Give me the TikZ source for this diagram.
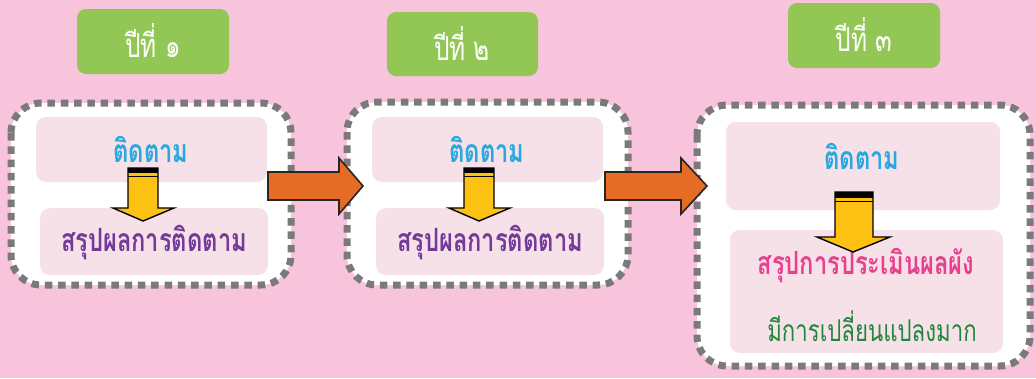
\documentclass[tikz,border=0pt]{standalone}
\usepackage{fontspec}
\newfontfamily\thai[Script=Thai, FakeStretch=0.74]{Loma}
\definecolor{bgpink}{HTML}{F7C4DC}
\definecolor{hdrgreen}{HTML}{92C756}
\definecolor{dashgray}{HTML}{7A7A7A}
\definecolor{innerpink}{HTML}{F5E1E7}
\definecolor{arrorange}{HTML}{E46C24}
\definecolor{arryellow}{HTML}{FDC114}
\definecolor{txtblue}{HTML}{29A8E0}
\definecolor{txtpurple}{HTML}{74399A}
\definecolor{txtpink}{HTML}{E8408E}
\definecolor{txtgreen}{HTML}{22873D}
\tikzset{
  hdr/.style={fill=hdrgreen, rounded corners=9pt},
  hdrtext/.style={text=white, font=\thai\fontsize{33}{36}\selectfont},
  dashbox/.style={draw=dashgray, fill=white, line width=7pt, dash pattern=on 7.5pt off 5.8pt, rounded corners=30pt},
  inner/.style={fill=innerpink, rounded corners=10pt},
  lbl/.style={font=\thai\bfseries\fontsize{32}{36}\selectfont},
  blockarrow/.style={draw=black!85, fill=arrorange, line width=1.6pt, line join=miter},
  downarrow/.style={draw=black, fill=arryellow, line width=1.4pt, line join=miter},
}
\begin{document}
\begin{tikzpicture}[x=1pt,y=-1pt]
\fill[bgpink] (0,0) rectangle (1036,378);
\useasboundingbox (0,0) rectangle (1036,378);

% header boxes
\fill[hdr] (77,9) rectangle (229,74);
\node[hdrtext] (h1) at (153,41) {ปีที่ ๑};
\fill[hdr] (387,12) rectangle (538,76);
\node[hdrtext] (h2) at (462,44) {ปีที่ ๒};
\fill[hdr] (788,3) rectangle (940,68);
\node[hdrtext] (h3) at (864,35) {ปีที่ ๓};

% dashed boxes
\draw[dashbox] (11,103) rectangle (291,285);
\draw[dashbox] (347,102) rectangle (628,285);
\draw[dashbox] (697,105) rectangle (1030,366);

% inner boxes box 1
\fill[inner] (36,117) rectangle (267,182);
\fill[inner] (40,208) rectangle (268,275);
% box 2
\fill[inner] (372,117) rectangle (603,182);
\fill[inner] (376,208) rectangle (604,275);
% box 3
\fill[inner] (726,122) rectangle (1000,210);
\fill[inner] (730,230) rectangle (1003,353);

% labels
\node[lbl, text=txtblue] (t1) at (151,149) {ติดตาม};
\node[lbl, text=txtpurple] (s1) at (154,243) {สรุปผลการติดตาม};
\node[lbl, text=txtblue] (t2) at (487,149) {ติดตาม};
\node[lbl, text=txtpurple] (s2) at (490,243) {สรุปผลการติดตาม};
\node[lbl, text=txtblue] (t3) at (862,156) {ติดตาม};
\node[lbl, text=txtpink] (s3) at (866,266) {สรุปการประเมินผลผัง};
\node[font=\thai\fontsize{30}{34}\selectfont, text=txtgreen] (m3) at (872,326) {มีการเปลี่ยนแปลงมาก};

% yellow down arrows
\foreach \dx in {0,336}{
  \begin{scope}[xshift=\dx pt]
  \draw[downarrow] (128,168) -- (158,168) -- (158,208) -- (174,208) -- (143,221) -- (113,208) -- (128,208) -- cycle;
  \fill[black] (128,168) rectangle (158,173);
  \draw[black, line width=1pt] (128,176.5) -- (158,176.5);
  \end{scope}
}
\draw[downarrow] (835,192) -- (873,192) -- (873,237) -- (890,237) -- (853,252) -- (817,237) -- (835,237) -- cycle;
\fill[black] (835,192) rectangle (873,198);
\draw[black, line width=1pt] (835,201.5) -- (873,201.5);

% orange block arrows
\draw[blockarrow] (268,172) -- (339,172) -- (339,158) -- (363,186) -- (339,214) -- (339,200) -- (268,200) -- cycle;
\draw[blockarrow] (605,172) -- (681,172) -- (681,158) -- (707,186) -- (681,214) -- (681,200) -- (605,200) -- cycle;
\end{tikzpicture}
\end{document}
